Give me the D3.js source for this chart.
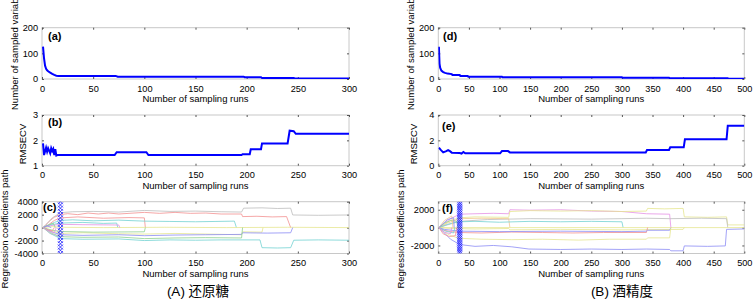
<!DOCTYPE html>
<html>
<head>
<meta charset="utf-8">
<script src="https://cdn.jsdelivr.net/npm/d3@7"></script>
<style>
  body { margin: 0; background: #fff; }
  svg { display: block; font-family: "Liberation Sans", Arial, sans-serif; }
</style>
</head>
<body>
<div id="container"></div>
<script>
/* DATA */
// (a) number of sampled variables, 还原糖
const aRuns = [1, 2, 3, 4, 5, 6, 8, 10, 12, 14, 16, 72, 74, 197, 198, 214, 215, 246, 247, 300]
const aVars = [126, 80, 52, 40, 34, 30, 25, 20, 16, 13, 12, 12, 9, 9, 7, 7, 4, 4, 2, 2]

// (b) RMSECV, 还原糖
const bRuns = [1, 2, 4, 5, 6, 8, 9, 10, 11, 12, 13, 14, 15, 71, 73, 102, 104, 195, 196, 203, 204, 214, 215, 240, 242, 246, 248, 300]
const bVals = [1.88, 1.42, 1.71, 1.55, 1.69, 1.49, 1.69, 1.58, 1.66, 1.42, 1.65, 1.40, 1.42, 1.42, 1.53, 1.53, 1.42, 1.42, 1.45, 1.45, 1.65, 1.65, 1.88, 1.88, 2.38, 2.36, 2.26, 2.26]

// (c) regression coefficient paths, 还原糖
const cPathRuns = [
  [1, 4, 8, 12, 18, 25, 35, 45, 55, 65, 75, 85, 100, 115, 130, 145, 160, 175, 195, 196, 210, 225, 239, 243],
  [1, 5, 10, 18, 30, 50, 75, 100, 125, 150, 175, 195, 197, 215, 230, 243, 245, 270, 300],
  [1, 6, 12, 18, 35, 60, 85, 100, 101],
  [1, 6, 12, 18, 30, 50, 75, 100, 125, 150, 170, 188, 190],
  [1, 8, 18, 40, 60, 73, 74],
  [1, 10, 18, 60, 120, 180, 240, 300],
  [1, 8, 18, 40, 75, 100, 130, 160, 195, 196, 215, 216],
  [1, 10, 18, 40, 75, 100, 130, 160, 195, 196, 220, 243, 245],
  [1, 10, 18, 40, 75, 100, 130, 160, 195, 196],
  [1, 8, 18, 40, 75, 100, 125, 150, 175, 213, 215, 230, 243, 246, 270, 300],
  [1, 8, 18, 40, 75, 76],
  [1, 10, 18, 50, 100, 101],
  [1, 5, 10, 12],
  [1, 6, 11, 13],
  [1, 5, 9],
  [1, 6, 12, 14],
  [1, 8, 16, 17]
]
const cPathVals = [
  [0, 500, 1100, 1600, 2000, 2150, 2000, 2250, 2100, 2250, 2100, 2200, 2350, 2200, 2350, 2200, 2250, 2100, 2100, 1700, 1750, 1650, 1700, 0],
  [0, 600, 1500, 2300, 2450, 2500, 2400, 2650, 2500, 2550, 2450, 2400, 3000, 3050, 2950, 3000, 1950, 1900, 1950],
  [0, 400, 1100, 1500, 1650, 1450, 1550, 1500, 0],
  [0, 300, 800, 1100, 1200, 1050, 1150, 1000, 950, 900, 950, 1000, 0],
  [0, 400, 700, 800, 650, 700, 0],
  [0, 150, 50, 0, 50, 0, 50, 0],
  [0, -500, -900, -800, -950, -1000, -900, -1000, -1100, -650, -700, 0],
  [0, -700, -1100, -1200, -1100, -1250, -1150, -1100, -1050, -800, -850, -800, 0],
  [0, -900, -1400, -1500, -1450, -1700, -1600, -1550, -1600, 0],
  [0, -900, -1700, -1800, -1750, -2000, -1900, -1950, -1900, -1900, -3100, -3150, -3100, -1950, -1900, -1950],
  [0, 300, 500, 450, 400, 0],
  [0, -400, -600, -700, -650, 0],
  [0, -300, -500, 0],
  [0, 400, 700, 0],
  [0, 300, 0],
  [0, -500, -800, 0],
  [0, -900, -1300, 0]
]
const cOptRun = 18

// (d) number of sampled variables, 酒精度
const dRuns = [1, 2, 3, 5, 8, 11, 15, 22, 23, 35, 36, 48, 49, 104, 105, 300, 301, 377, 378, 473, 474, 500]
const dVars = [126, 60, 44, 33, 27, 24, 21, 19, 16, 16, 12, 12, 9, 9, 7, 7, 5, 5, 3, 3, 1, 1]

// (e) RMSECV, 酒精度
const eRuns = [1, 4, 8, 13, 16, 19, 22, 35, 38, 41, 44, 101, 104, 114, 117, 339, 341, 377, 379, 401, 403, 471, 473, 500]
const eVals = [1.42, 1.25, 1.05, 1.15, 1.23, 1.15, 1.03, 1.0, 0.96, 1.08, 0.98, 0.98, 1.15, 1.15, 1.05, 1.05, 1.24, 1.24, 1.45, 1.45, 2.08, 2.08, 3.16, 3.16]

// (f) regression coefficient paths, 酒精度
const fPathRuns = [
  [1, 10, 20, 35, 60, 90, 115, 117, 150, 200, 250, 300, 340, 378, 380],
  [1, 10, 20, 35, 60, 115, 117, 150, 200, 250, 300, 340, 342, 370, 400, 402, 440, 471, 473, 500],
  [1, 15, 35, 80, 150, 250, 300, 340, 378, 380, 430, 471, 473],
  [1, 15, 35, 70, 115, 117],
  [1, 12, 25, 35, 60, 100, 150, 200, 250, 300, 302],
  [1, 500],
  [1, 20, 60, 115, 117, 200, 300, 400, 402],
  [1, 10, 20, 35, 70, 120, 170, 220, 270, 340, 342],
  [1, 10, 35, 100, 200, 300, 340, 342, 378, 380],
  [1, 10, 20, 35, 70, 120, 170, 229, 280, 340, 342, 378, 380],
  [1, 10, 20, 35, 60, 90, 120, 148, 200, 250, 300, 340, 378, 380, 400, 402, 440, 469, 471, 500],
  [1, 10, 20, 30, 32],
  [1, 8, 18, 28, 30],
  [1, 12, 25, 27],
  [1, 10, 22, 24],
  [1, 15, 25, 26],
  [1, 10, 20, 22]
]
const fPathVals = [
  [0, 500, 1000, 1500, 1550, 1600, 1550, 2000, 1950, 2000, 1850, 1800, 1550, 1500, 0],
  [0, 400, 800, 1100, 1200, 1150, 1800, 1900, 1850, 1900, 1800, 1850, 2150, 2100, 2150, 1200, 1150, 1200, 300, 300],
  [0, 300, 700, 900, 1000, 950, 1000, 1050, 1000, 1000, 1050, 1000, 0],
  [0, 500, 1000, 1050, 1000, 0],
  [0, 300, 550, 650, 700, 600, 700, 650, 700, 650, 0],
  [0, 0],
  [0, -100, -150, -100, -250, -200, -250, -200, 0],
  [0, -300, -450, -550, -600, -500, -550, -600, -550, -550, 0],
  [0, -200, -400, -450, -400, -450, -400, -300, -300, 0],
  [0, -500, -900, -1200, -1300, -1350, -1300, -1400, -1300, -1300, -1150, -1150, 0],
  [0, -600, -1300, -1900, -2100, -2000, -2150, -2400, -2450, -2400, -2450, -2400, -2450, -2600, -2600, -2050, -2100, -2050, -200, -150],
  [0, 500, 800, 700, 0],
  [0, -700, -1000, -900, 0],
  [0, -400, -600, 0],
  [0, 800, 1300, 0],
  [0, 900, 1100, 0],
  [0, -500, -700, 0]
]
const fOptRun = 35

// tick labels
const xTicksA = [0, 50, 100, 150, 200, 250, 300]
const xTicksB = [0, 50, 100, 150, 200, 250, 300, 350, 400, 450, 500]
const yTicksVars = [0, 100, 200]
const yTicksB = [1, 2, 3]
const yTicksC = [-4000, -2000, 0, 2000, 4000]
const yTicksE = [0, 2, 4]
const yTicksF = [-2000, 0, 2000]

/* STYLES */
const red = "#f29090", gray = "#bdbdbd", cyan = "#72d2d2", yellow = "#e6e690",
  blue = "#8c8cf5", green = "#8fd08f", magenta = "#e490e4", orange = "#f2c890"
const cPathColors = [red, gray, red, cyan, cyan, yellow, yellow, blue, green, cyan, magenta, green, red, green, blue, magenta, gray]
const fPathColors = [magenta, yellow, gray, orange, cyan, yellow, yellow, red, blue, yellow, blue, green, red, cyan, orange, blue, magenta]

/* CONSTANTS AND GLOBALS */
const width = 753, height = 300
const colA = [42, 349], colB = [438.3, 744.3]
const rowTop = [27.7, 79], rowMid = [115, 165.7], rowBot = [201.7, 253.5]

const svg = d3.select("#container")
  .append("svg")
  .attr("width", width)
  .attr("height", height)

let clipId = 0
const plain = d => String(d)

// FRAME, TICKS AND LABELS FOR ONE SUBPLOT
function subplot(xr, yr, xDomain, yDomain, xTicks, yTicks) {
  const x = d3.scaleLinear().domain(xDomain).range(xr)
  const y = d3.scaleLinear().domain(yDomain).range([yr[1], yr[0]])
  const g = svg.append("g")

  g.append("rect")
    .attr("x", xr[0]).attr("y", yr[0])
    .attr("width", xr[1] - xr[0]).attr("height", yr[1] - yr[0])
    .attr("fill", "none").attr("stroke", "#c8c8c8")

  const style = sel => {
    sel.select(".domain").remove()
    sel.selectAll("line").attr("stroke", "#555")
    sel.selectAll("text").attr("fill", "#000").style("font-size", "9.2px")
  }
  g.append("g").attr("transform", `translate(0,${yr[1]})`)
    .call(d3.axisBottom(x).tickValues(xTicks).tickFormat(plain).tickSizeInner(-2).tickSizeOuter(0).tickPadding(6))
    .call(style)
  g.append("g").attr("transform", `translate(0,${yr[0]})`)
    .call(d3.axisTop(x).tickValues(xTicks).tickSizeInner(-2).tickSizeOuter(0).tickFormat(""))
    .call(style)
  g.append("g").attr("transform", `translate(${xr[0]},0)`)
    .call(d3.axisLeft(y).tickValues(yTicks).tickFormat(plain).tickSizeInner(-2).tickSizeOuter(0).tickPadding(4))
    .call(style)
  g.append("g").attr("transform", `translate(${xr[1]},0)`)
    .call(d3.axisRight(y).tickValues(yTicks).tickSizeInner(-2).tickSizeOuter(0).tickFormat(""))
    .call(style)

  g.append("text")
    .attr("x", (xr[0] + xr[1]) / 2)
    .attr("y", yr[1] + 23)
    .attr("text-anchor", "middle")
    .style("font-size", "9.5px")
    .text("Number of sampling runs")

  clipId += 1
  svg.append("clipPath").attr("id", "clip" + clipId)
    .append("rect")
    .attr("x", xr[0]).attr("y", yr[0])
    .attr("width", xr[1] - xr[0]).attr("height", yr[1] - yr[0])
  const plot = svg.append("g").attr("clip-path", `url(#clip${clipId})`)
  return { x, y, plot }
}

function yLabel(text, x, y, anchor) {
  svg.append("text")
    .attr("transform", `translate(${x},${y}) rotate(-90)`)
    .attr("text-anchor", anchor)
    .style("font-size", "9.5px")
    .text(text)
}

function panelTag(text, x, y) {
  svg.append("text")
    .attr("x", x).attr("y", y)
    .style("font-size", "11px")
    .style("font-weight", "bold")
    .text(text)
}

function blueLine(s, runs, vals) {
  const lineGen = d3.line().x(d => s.x(d[0])).y(d => s.y(d[1]))
  s.plot.append("path")
    .datum(d3.zip(runs, vals))
    .attr("d", lineGen)
    .attr("fill", "none")
    .attr("stroke", "#0000ff")
    .attr("stroke-width", 2)
}

function coefPaths(s, runsList, valsList, colors, optRun) {
  const lineGen = d3.line().x(d => s.x(d[0])).y(d => s.y(d[1]))
  runsList.forEach((runs, i) => {
    s.plot.append("path")
      .datum(d3.zip(runs, valsList[i]))
      .attr("d", lineGen)
      .attr("fill", "none")
      .attr("stroke", colors[i])
      .attr("stroke-width", 0.8)
  })
  // optimal run marker: column of blue crosses
  s.plot.selectAll(".opt")
    .data(s.y.ticks(24))
    .join("path")
    .attr("class", "opt")
    .attr("transform", d => `translate(${s.x(optRun)},${s.y(d)})`)
    .attr("d", "M-2.5,-2.5L2.5,2.5M-2.5,2.5L2.5,-2.5")
    .attr("fill", "none")
    .attr("stroke", "#2020ff")
    .attr("stroke-width", 0.8)
}

/* PANEL A: 还原糖 */
const sa = subplot(colA, rowTop, [0, 300], [0, 200], xTicksA, yTicksVars)
blueLine(sa, aRuns, aVars)
const sb = subplot(colA, rowMid, [0, 300], [1, 3], xTicksA, yTicksB)
blueLine(sb, bRuns, bVals)
const sc = subplot(colA, rowBot, [0, 300], [-4000, 4000], xTicksA, yTicksC)
coefPaths(sc, cPathRuns, cPathVals, cPathColors, cOptRun)

// the source figure crops this label at its top edge
yLabel("Number of sampled variab", 17.5, 110, "start")
yLabel("RMSECV", 26, 144, "middle")
yLabel("Regression coefficients path", 8, 229, "middle")
panelTag("(a)", 48, 40)
panelTag("(b)", 48, 126)
panelTag("(c)", 43, 211)

/* PANEL B: 酒精度 */
const sd = subplot(colB, rowTop, [0, 500], [0, 200], xTicksB, yTicksVars)
blueLine(sd, dRuns, dVars)
const se = subplot(colB, rowMid, [0, 500], [0, 4], xTicksB, yTicksE)
blueLine(se, eRuns, eVals)
const sf = subplot(colB, rowBot, [0, 500], [-2900, 2900], xTicksB, yTicksF)
coefPaths(sf, fPathRuns, fPathVals, fPathColors, fOptRun)

yLabel("Number of sampled variab", 413.5, 110, "start")
yLabel("RMSECV", 416.5, 144, "middle")
yLabel("Regression coefficients path", 404, 229, "middle")
panelTag("(d)", 443, 40)
panelTag("(e)", 442, 130)
panelTag("(f)", 442, 212)

/* TITLES */
svg.append("text")
  .attr("x", 198).attr("y", 295.5)
  .attr("text-anchor", "middle")
  .style("font-size", "13.5px")
  .style("font-family", "'Liberation Sans', 'Noto Sans CJK SC', sans-serif")
  .text("(A) 还原糖")

svg.append("text")
  .attr("x", 622).attr("y", 295.5)
  .attr("text-anchor", "middle")
  .style("font-size", "13.5px")
  .style("font-family", "'Liberation Sans', 'Noto Sans CJK SC', sans-serif")
  .text("(B) 酒精度")
</script>
</body>
</html>
